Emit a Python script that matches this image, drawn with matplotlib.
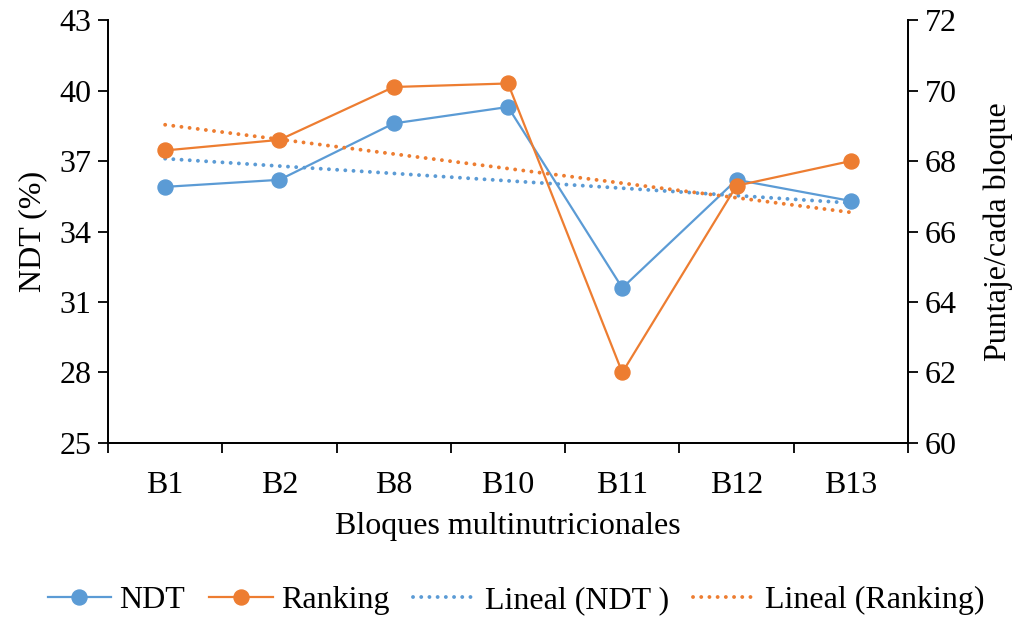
import numpy as np
import matplotlib
matplotlib.use("Agg")
from matplotlib import pyplot as plt
from matplotlib.ticker import FixedLocator

bloques = ["B1", "B2", "B8", "B10", "B11", "B12", "B13"]
ndt = [35.9, 36.2, 38.6, 39.3, 31.6, 36.2, 35.3]
ranking = [68.3, 68.6, 70.1, 70.2, 62.0, 67.3, 68.0]

ndt_ticks = [25, 28, 31, 34, 37, 40, 43]
rank_ticks = [60, 62, 64, 66, 68, 70, 72]

BLUE = "#5B9BD5"
ORANGE = "#ED7D31"

plt.rcParams["font.family"] = ["Liberation Serif", "DejaVu Serif"]
plt.rcParams["font.size"] = 23

fig = plt.figure(figsize=(10.16, 6.2), dpi=100)
ax = fig.add_axes([0.1063, 0.2855, 0.7874, 0.6822])
ax2 = ax.twinx()

x = np.arange(len(bloques))

# linear trends (least squares, same as Excel "Lineal")
k1, b1 = np.polyfit(x + 1, ndt, 1)
k2, b2 = np.polyfit(x + 1, ranking, 1)

dots = dict(lw=2.8, dashes=(0.01, 2.1), dash_capstyle="round")

l1, = ax.plot(x, ndt, color=BLUE, lw=1.6, marker="o", ms=10.8, label="NDT", zorder=3)
t1, = ax.plot(x, k1 * (x + 1) + b1, color=BLUE, label="Lineal (NDT )", zorder=2, **dots)
l2, = ax2.plot(x, ranking, color=ORANGE, lw=1.6, marker="o", ms=10.8, label="Ranking", zorder=3)
t2, = ax2.plot(x, k2 * (x + 1) + b2, color=ORANGE, label="Lineal (Ranking)", zorder=2, **dots)

ax.set_xlim(-0.5, len(bloques) - 0.5)
ax.set_ylim(25, 43)
ax2.set_ylim(60, 72)
ax.set_yticks(ndt_ticks)
ax2.set_yticks(rank_ticks)

ax.set_xticks(x)
ax.set_xticklabels(bloques)
ax.xaxis.set_minor_locator(FixedLocator(np.arange(-0.5, len(bloques), 1.0)))
ax.tick_params(axis="x", which="major", length=0, pad=20)
ax.tick_params(axis="x", which="minor", length=7, width=1.3, direction="out")
ax.tick_params(axis="y", length=7, width=1.3, direction="out", pad=5)
ax2.tick_params(axis="y", length=7, width=1.3, direction="out", pad=5)

for a in (ax, ax2):
    a.spines["top"].set_visible(False)
    for s in ("left", "right", "bottom"):
        a.spines[s].set_linewidth(1.3)

ax.set_xlabel("Bloques multinutricionales", labelpad=9)
ax.set_ylabel("NDT (%)", labelpad=9)
ax2.set_ylabel("Puntaje/cada bloque", labelpad=19)

fig.legend([l1, l2, t1, t2], ["NDT", "Ranking", "Lineal (NDT )", "Lineal (Ranking)"],
           loc="center", bbox_to_anchor=(0.508, 0.032), ncol=4, frameon=False,
           handlelength=2.0, handletextpad=0.25, columnspacing=0.75,
           borderaxespad=0)

fig.savefig("out.png", dpi=100)
